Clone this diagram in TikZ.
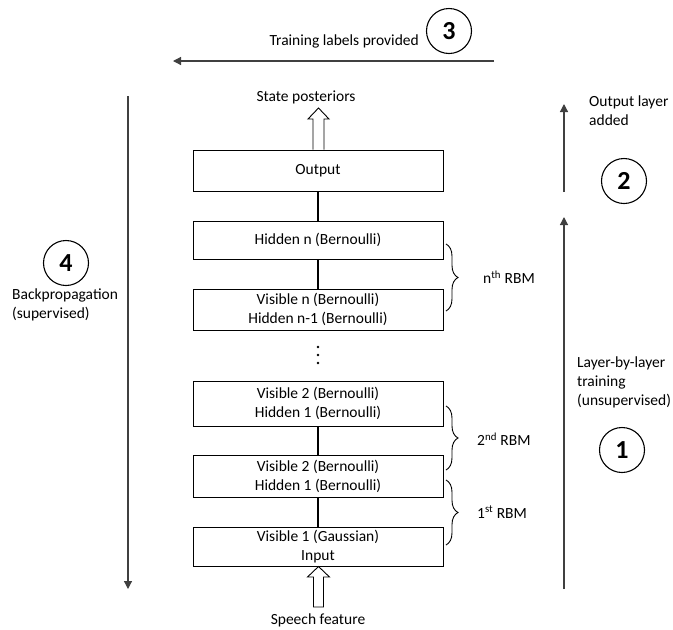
\documentclass[tikz,border=0pt]{standalone}
\usepackage{fontspec}
\setmainfont{Carlito}
\usetikzlibrary{arrows.meta,decorations.pathreplacing}
\begin{document}
\begin{tikzpicture}[x=1pt,y=-1pt,
  txt/.style={font=\fontsize{15.5}{19}\selectfont, inner sep=0pt, align=center},
  layer/.style={draw=black, line width=1pt, minimum width=250pt, inner sep=0pt, align=center, font=\fontsize{15.5}{19}\selectfont},
  numc/.style={draw=black, line width=1.1pt, circle, minimum size=45pt, inner sep=0pt, font=\fontsize{26}{26}\selectfont\bfseries},
  flow/.style={draw=black!75, line width=1.2pt, -{Triangle[length=8pt,width=8pt]}},
  link/.style={draw=black, line width=1.8pt},
  brc/.style={draw=black, line width=0.9pt, decorate, decoration={brace, amplitude=12pt, aspect=0.5}},
  hollow/.style={draw=black, line width=0.9pt, fill=white},
  dotc/.style={circle, fill=black, inner sep=0pt, minimum size=2.8pt}
]
\useasboundingbox (0,0) rectangle (673,630);

% layers
\node[layer, minimum height=41pt] (out) at (318,170.5) {Output};
\node[layer, minimum height=38pt] (hn) at (318,240) {Hidden n (Bernoulli)};
\node[layer, minimum height=41pt] (vn) at (318,309.5) {Visible n (Bernoulli)\\Hidden n-1 (Bernoulli)};
\node[layer, minimum height=45pt] (v2a) at (318,403.5) {Visible 2 (Bernoulli)\\Hidden 1 (Bernoulli)};
\node[layer, minimum height=42pt] (v2b) at (318,476) {Visible 2 (Bernoulli)\\Hidden 1 (Bernoulli)};
\node[layer, minimum height=39pt] (v1) at (318,546.5) {Visible 1 (Gaussian)\\Input};

% links
\draw[link] (out.south) -- (hn.north);
\draw[link] (hn.south) -- (vn.north);
\draw[link] (v2a.south) -- (v2b.north);
\draw[link] (v2b.south) -- (v1.north);

% dots
\node[dotc] (d1) at (318,347) {};
\node[dotc] (d2) at (318,355) {};
\node[dotc] (d3) at (318,363) {};

% hollow arrows
\draw[hollow] (out.north -| 313,0) -- (313,119) -- (308,119) -- (318.5,108) -- (329,119) -- (324,119) -- (out.north -| 324,0);
\node[txt] (sp) at (306,97) {State posteriors};
\draw[hollow] (313.5,607) -- (313.5,577) -- (307.5,577) -- (v1.south -| 318.5,0) -- (329.5,577) -- (323.5,577) -- (323.5,607) -- cycle;
\node[txt] (sf) at (318,620) {Speech feature};

% braces
\draw[brc] (446,244) -- (446,311);
\node[txt, anchor=west] (bnl) at (483,277) {n\textsuperscript{th} RBM};
\draw[brc] (446,406) -- (446,470);
\node[txt, anchor=west] (b2l) at (477,439) {2\textsuperscript{nd} RBM};
\draw[brc] (446,480) -- (446,545);
\node[txt, anchor=west] (b1l) at (477,512) {1\textsuperscript{st} RBM};

% top arrow
\coordinate (ta) at (494,61);
\coordinate (tb) at (173,61);
\draw[flow] (ta) -- (tb);
\node[txt, anchor=east] (tl) at (419,41) {Training labels provided};
\node[numc] (c3) at (449,31) {3};

% right arrows
\coordinate (a2s) at (564,192);
\coordinate (a2e) at (564,104);
\draw[flow] (a2s) -- (a2e);
\node[txt, anchor=north west, align=left] (a2l) at (589,96) {Output layer\\added};
\node[numc] (c2) at (624,181) {2};

\coordinate (a1s) at (564,589);
\coordinate (a1e) at (564,217);
\draw[flow] (a1s) -- (a1e);
\node[txt, anchor=north west, align=left] (a1l) at (577,357) {Layer-by-layer\\training\\(unsupervised)};
\node[numc] (c1) at (622,450) {1};

% left arrow
\coordinate (a4s) at (128,96);
\coordinate (a4e) at (128,589);
\draw[flow] (a4s) -- (a4e);
\node[numc] (c4) at (66,263) {4};
\node[txt, anchor=north west, align=left] (a4l) at (12,289) {Backpropagation\\(supervised)};
\end{tikzpicture}
\end{document}
